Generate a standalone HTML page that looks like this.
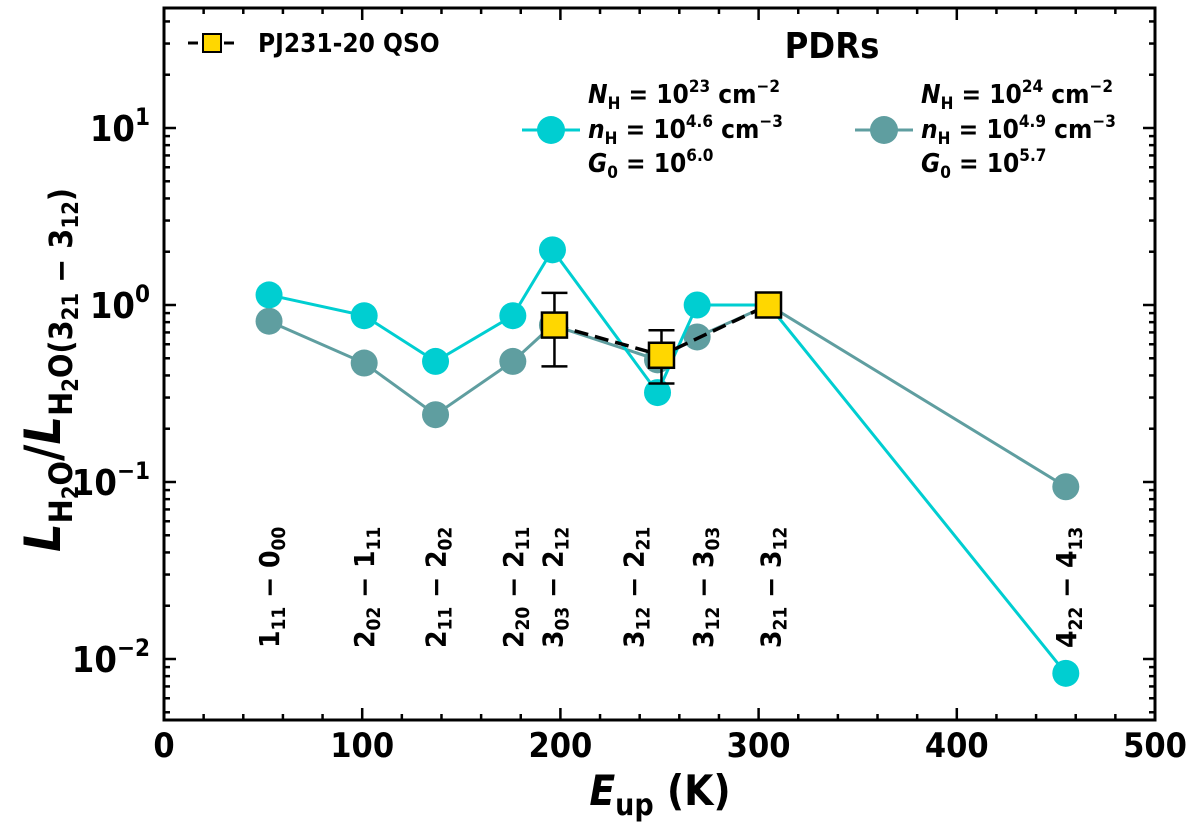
<!DOCTYPE html>
<html><head><meta charset="utf-8"><style>
html,body{margin:0;padding:0;background:#fff;width:1200px;height:823px;overflow:hidden}
svg text{font-family:"DejaVu Sans Condensed","DejaVu Sans","Liberation Sans",sans-serif;font-weight:bold}
</style></head><body>
<svg id="chart" width="1200" height="823" viewBox="0 0 1200 823" xmlns="http://www.w3.org/2000/svg"></svg>
<script>
const energies = [53, 101, 137, 176, 196, 249, 269, 305, 455];
const pdr23 = [1.14, 0.87, 0.48, 0.87, 2.05, 0.32, 1.0, 1.0, 0.0083];
const pdr24 = [0.81, 0.47, 0.24, 0.48, 0.77, 0.49, 0.66, 1.0, 0.094];
const qsoE = [197, 251, 305];
const qsoVal = [0.77, 0.52, 1.0];
const qsoLo = [0.45, 0.36, 1.0];
const qsoHi = [1.17, 0.72, 1.0];
const labelE = [53, 101, 137, 176, 196, 237, 272, 306, 455];
const transLo = ['1','2','2','2','3','3','3','3','4'];
const transLoSub = ['11','02','11','20','03','12','12','21','22'];
const transUp = ['0','1','2','2','2','2','3','3','4'];
const transUpSub = ['00','11','02','11','12','21','03','12','13'];
const xTicks = [0,100,200,300,400,500];
const yExps = [1,0,-1,-2];

const L=164,R=1155,T=8,B=720;
const X=v=>L+(v/500)*(R-L);
const Y=v=>305-177*Math.log10(v);
const NS='http://www.w3.org/2000/svg';
const svg=document.getElementById('chart');
function mk(tag,attrs,parent){const e=document.createElementNS(NS,tag);for(const k in attrs)e.setAttribute(k,attrs[k]);(parent||svg).appendChild(e);return e;}

const frame=mk('rect',{x:L,y:T,width:R-L,height:B-T,fill:'none',stroke:'#000','stroke-width':3});



for(let v=0;v<=500;v+=20){const maj=v%100===0;const len=maj?12:6;
 mk('line',{x1:X(v),x2:X(v),y1:B,y2:B-len,stroke:'#000','stroke-width':2.5});
 mk('line',{x1:X(v),x2:X(v),y1:T,y2:T+len,stroke:'#000','stroke-width':2.5});}
xTicks.forEach(v=>{const t=mk('text',{x:X(v),y:B+37,'text-anchor':'middle','font-size':34});t.textContent=v;
 
 });
for(let e=-3;e<=1;e++){for(let m=1;m<10;m++){const v=m*Math.pow(10,e);const y=Y(v);if(y<T||y>B)continue;const len=m===1?12:6;
 mk('line',{x1:L,x2:L+len,y1:y,y2:y,stroke:'#000','stroke-width':2.5});
 mk('line',{x1:R,x2:R-len,y1:y,y2:y,stroke:'#000','stroke-width':2.5});}}
yExps.forEach(e=>{const t=mk('text',{x:150,y:Y(Math.pow(10,e))+13,'text-anchor':'end','font-size':36});
 t.innerHTML='10<tspan dy="-16" font-size="24">'+(e<0?'\u2212'+(-e):e)+'</tspan>';
 
 });

const xt=mk('text',{x:660,y:805,'text-anchor':'middle','font-size':42});
xt.innerHTML='<tspan font-style="italic">E</tspan><tspan dy="10" font-size="30">up</tspan><tspan dy="-10"> (K)</tspan>';


const yt=mk('text',{x:0,y:0,'text-anchor':'middle','font-size':50,transform:'translate(60,370) rotate(-90)'});
yt.innerHTML='<tspan font-style="italic">L</tspan><tspan dy="12" font-size="32">H</tspan><tspan dy="6" font-size="22">2</tspan><tspan dy="-6" font-size="32">O</tspan><tspan dy="-12">/</tspan><tspan font-style="italic">L</tspan><tspan dy="12" font-size="32">H</tspan><tspan dy="6" font-size="22">2</tspan><tspan dy="-6" font-size="32">O(3</tspan><tspan dy="6" font-size="22">21</tspan><tspan dy="-6" font-size="32"> \u2212 3</tspan><tspan dy="6" font-size="22">12</tspan><tspan dy="-6" font-size="32">)</tspan>';



labelE.forEach((e,i)=>{const t=mk('text',{x:0,y:0,'font-size':28,transform:'translate('+(X(e)+10)+',648) rotate(-90)'});
 t.innerHTML=transLo[i]+'<tspan dy="6" font-size="19">'+transLoSub[i]+'</tspan><tspan dy="-6"> \u2212 '+transUp[i]+'</tspan><tspan dy="6" font-size="19">'+transUpSub[i]+'</tspan>';
 
 });

function series(vals,color,name){
 const pl=mk('polyline',{points:energies.map((e,i)=>X(e)+','+Y(vals[i])).join(' '),fill:'none',stroke:color,'stroke-width':3});
 
 
 energies.forEach((e,i)=>{const c=mk('circle',{cx:X(e),cy:Y(vals[i]),r:13.5,fill:color});
  
  });
}
series(pdr24,'#5f9ea0','pdr-nh24');
series(pdr23,'#00ced1','pdr-nh23');

const ql=mk('polyline',{points:qsoE.map((e,i)=>X(e)+','+Y(qsoVal[i])).join(' '),fill:'none',stroke:'#000','stroke-width':3.5,'stroke-dasharray':'14,7'});


qsoE.forEach((e,i)=>{const x=X(e);
 if(qsoHi[i]!==qsoLo[i]){
  const eb=mk('g',{stroke:'#000','stroke-width':2.5});
  
  
  mk('line',{x1:x,x2:x,y1:Y(qsoHi[i]),y2:Y(qsoLo[i])},eb);
  mk('line',{x1:x-13,x2:x+13,y1:Y(qsoHi[i]),y2:Y(qsoHi[i])},eb);
  mk('line',{x1:x-13,x2:x+13,y1:Y(qsoLo[i]),y2:Y(qsoLo[i])},eb);}
 const s=mk('rect',{x:x-12.5,y:Y(qsoVal[i])-12.5,width:25,height:25,fill:'#ffd700',stroke:'#000','stroke-width':2.5});
 
 });

const lg=mk('g',{});


mk('line',{x1:188,x2:240,y1:43,y2:43,stroke:'#000','stroke-width':3,'stroke-dasharray':'10,8'},lg);
mk('rect',{x:203,y:34,width:18,height:18,fill:'#ffd700',stroke:'#000','stroke-width':2},lg);
let t=mk('text',{x:258,y:52,'font-size':26},lg);t.textContent='PJ231-20 QSO';
t=mk('text',{x:832,y:58,'text-anchor':'middle','font-size':36},lg);t.textContent='PDRs';
function pdrLeg(x0,color,N,n,G){
 mk('line',{x1:x0,x2:x0+58,y1:130,y2:130,stroke:color,'stroke-width':3},lg);
 mk('circle',{cx:x0+29,cy:130,r:14,fill:color},lg);
 const tx=x0+66;
 let a=mk('text',{x:tx,y:103,'font-size':26},lg);a.innerHTML='<tspan font-style="italic">N</tspan><tspan dy="6" font-size="17">H</tspan><tspan dy="-6"> = 10</tspan><tspan dy="-11" font-size="17">'+N+'</tspan><tspan dy="11"> cm</tspan><tspan dy="-11" font-size="17">\u22122</tspan>';
 a=mk('text',{x:tx,y:138,'font-size':26},lg);a.innerHTML='<tspan font-style="italic">n</tspan><tspan dy="6" font-size="17">H</tspan><tspan dy="-6"> = 10</tspan><tspan dy="-11" font-size="17">'+n+'</tspan><tspan dy="11"> cm</tspan><tspan dy="-11" font-size="17">\u22123</tspan>';
 a=mk('text',{x:tx,y:172,'font-size':26},lg);a.innerHTML='<tspan font-style="italic">G</tspan><tspan dy="6" font-size="17">0</tspan><tspan dy="-6"> = 10</tspan><tspan dy="-11" font-size="17">'+G+'</tspan>';
}
pdrLeg(522,'#00ced1','23','4.6','6.0');
pdrLeg(855,'#5f9ea0','24','4.9','5.7');
</script>
</body></html>
